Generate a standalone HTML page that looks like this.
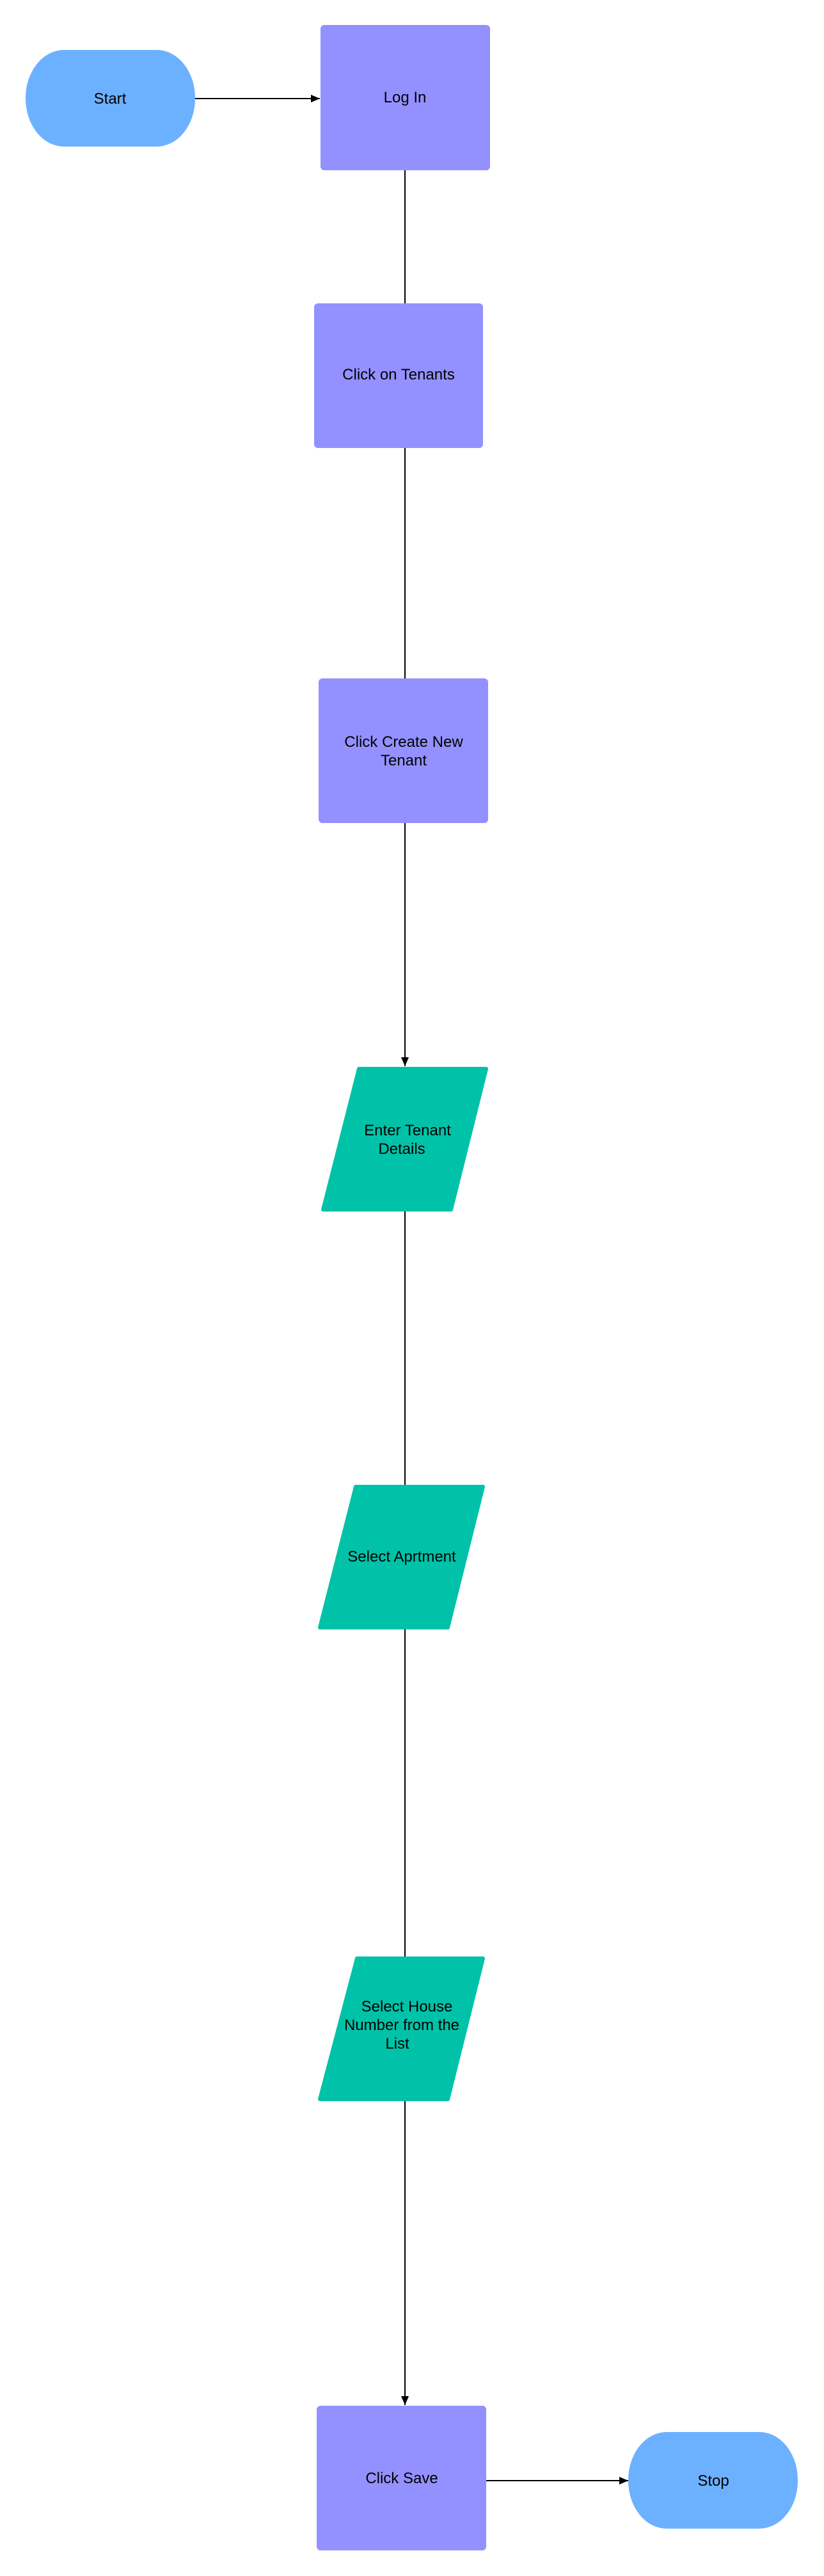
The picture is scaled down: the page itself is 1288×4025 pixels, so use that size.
<!DOCTYPE html>
<html><head><meta charset="utf-8"><style>
html,body{margin:0;padding:0;background:#fff;}
body{width:1288px;height:4025px;position:relative;overflow:hidden;}
svg{position:absolute;left:0;top:0;}
text{font-family:"Liberation Sans",Arial,sans-serif;font-size:24px;fill:#000;text-anchor:middle;}
</style></head><body>
<svg width="1288" height="4025" viewBox="0 0 1288 4025">
<defs><marker id="a" markerWidth="14" markerHeight="12" refX="14" refY="6" orient="auto" markerUnits="userSpaceOnUse"><path d="M0,0 L14,6 L0,12 Z" fill="#000"/></marker></defs>
<g stroke="#000" stroke-width="2" fill="none">
<line x1="305" y1="154" x2="500" y2="154" marker-end="url(#a)"/>
<line x1="633" y1="266" x2="633" y2="474"/>
<line x1="633" y1="700" x2="633" y2="1060"/>
<line x1="633" y1="1286" x2="633" y2="1666" marker-end="url(#a)"/>
<line x1="633" y1="1893" x2="633" y2="2320"/>
<line x1="633" y1="2546" x2="633" y2="3057"/>
<line x1="633" y1="3283" x2="633" y2="3758" marker-end="url(#a)"/>
<line x1="760" y1="3876" x2="982" y2="3876" marker-end="url(#a)"/>
</g>
<rect x="40" y="78" width="265" height="151" rx="60" ry="75" fill="#6cb1ff"/>
<rect x="982" y="3800" width="265" height="151" rx="60" ry="75" fill="#6cb1ff"/>
<rect x="501" y="39" width="265" height="227" rx="6" fill="#9391ff"/>
<rect x="491" y="474" width="264" height="226" rx="6" fill="#9391ff"/>
<rect x="498" y="1060" width="265" height="226" rx="6" fill="#9391ff"/>
<rect x="495" y="3759" width="265" height="226" rx="6" fill="#9391ff"/>
<g fill="#00c2a8" stroke="#00c2a8" stroke-width="6" stroke-linejoin="round">
<polygon points="561,1670 760,1670 705,1890 505,1890"/>
<polygon points="556,2323 755,2323 700,2543 500,2543"/>
<polygon points="558,3060 755,3060 700,3280 500,3280"/>
</g>
<text x="172" y="162">Start</text>
<text x="633" y="160">Log In</text>
<text x="623" y="593">Click on Tenants</text>
<text x="631" y="1167">Click Create New</text>
<text x="631" y="1196">Tenant</text>
<text x="637" y="1774">Enter Tenant</text>
<text x="628" y="1803">Details</text>
<text x="628" y="2440">Select Aprtment</text>
<text x="636" y="3143">Select House</text>
<text x="628" y="3172">Number from the</text>
<text x="621" y="3201">List</text>
<text x="628" y="3880">Click Save</text>
<text x="1115" y="3884">Stop</text>
</svg>
</body></html>
